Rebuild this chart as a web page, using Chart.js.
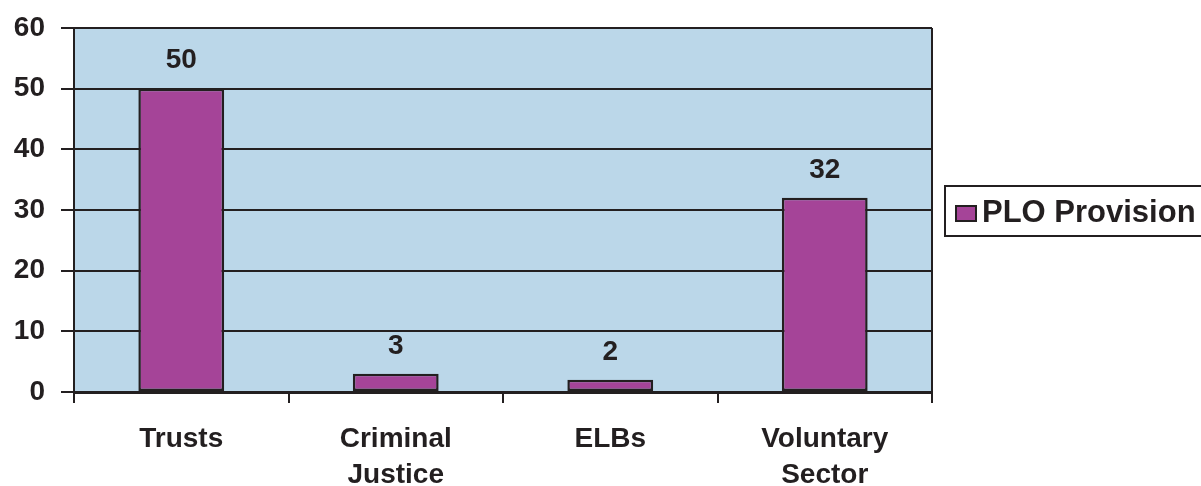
<!DOCTYPE html>
<html>
<head>
<meta charset="utf-8">
<script src="https://cdn.jsdelivr.net/npm/chart.js@4.4.0/dist/chart.umd.min.js"></script>
<style>
  html, body { margin: 0; padding: 0; background: #fff; }
  #wrap { width: 1201px; height: 486px; position: relative; }
</style>
</head>
<body>
<div id="wrap"><canvas id="chart"></canvas></div>
<script>
// ─── DATA ─────────────────────────────────────────
const categories = ['Trusts', ['Criminal', 'Justice'], 'ELBs', ['Voluntary', 'Sector']];
const provision  = [50, 3, 2, 32];
const seriesName = 'PLO Provision';
const yTicks     = [0, 10, 20, 30, 40, 50, 60];

const INK   = '#231F20';
const BAR   = '#A54498';
const PANEL = '#BBD7E9';
const FONT  = "'Liberation Sans', Arial, Helvetica, sans-serif";

// panel background + right border
const panelPlugin = {
  id: 'panel',
  beforeDraw(chart) {
    const { ctx, chartArea: a } = chart;
    ctx.save();
    ctx.fillStyle = PANEL;
    ctx.fillRect(a.left, a.top, a.right - a.left, a.bottom - a.top);
    ctx.restore();
  },
  afterDraw(chart) {
    const { ctx, chartArea: a } = chart;
    ctx.save();
    ctx.strokeStyle = INK;
    ctx.lineWidth = 2;
    ctx.beginPath();
    ctx.moveTo(a.right, a.top);
    ctx.lineTo(a.right, a.bottom);
    ctx.stroke();
    ctx.restore();
  }
};

// value labels above each bar
const valuePlugin = {
  id: 'values',
  afterDatasetsDraw(chart) {
    const { ctx } = chart;
    const meta = chart.getDatasetMeta(0);
    ctx.save();
    ctx.fillStyle = INK;
    ctx.font = 'bold 28px ' + FONT;
    ctx.textAlign = 'center';
    ctx.textBaseline = 'middle';
    meta.data.forEach((bar, i) => {
      ctx.fillText(String(chart.data.datasets[0].data[i]), bar.x, bar.y - 28);
    });
    ctx.restore();
  }
};

// boxed legend on the right, partly off the canvas like the source
const legendPlugin = {
  id: 'boxLegend',
  afterDraw(chart) {
    const { ctx } = chart;
    const ds = chart.data.datasets[0];
    const x = 945, y = 186, h = 50;
    ctx.save();
    ctx.strokeStyle = INK;
    ctx.lineWidth = 2;
    ctx.strokeRect(x, y, 300, h);
    ctx.fillStyle = ds.backgroundColor;
    ctx.fillRect(x + 11, y + 20, 20, 15);
    ctx.strokeRect(x + 11, y + 20, 20, 15);
    ctx.fillStyle = INK;
    ctx.font = 'bold 31px ' + FONT;
    ctx.textAlign = 'left';
    ctx.textBaseline = 'middle';
    ctx.fillText(ds.label, x + 37, y + h / 2 + 2);
    ctx.restore();
  }
};

new Chart(document.getElementById('chart'), {
  type: 'bar',
  data: {
    labels: categories,
    datasets: [{
      label: seriesName,
      data: provision,
      backgroundColor: BAR,
      borderColor: INK,
      borderWidth: 2.5,
      borderSkipped: false,
      barPercentage: 0.40,
      categoryPercentage: 1
    }]
  },
  options: {
    responsive: true,
    maintainAspectRatio: false,
    animation: false,
    layout: { padding: { top: 28, right: 269, left: 0, bottom: 0 } },
    plugins: {
      legend: { display: false },
      tooltip: { enabled: false }
    },
    scales: {
      x: {
        offset: true,
        grid: {
          offset: true,
          drawOnChartArea: false,
          color: INK,
          lineWidth: 2,
          tickLength: 11
        },
        border: { display: true, color: INK, width: 3 },
        ticks: {
          color: INK,
          padding: 18,
          maxRotation: 0,
          font: { family: FONT, size: 28, weight: 'bold', lineHeight: 1.3 }
        },
        afterFit: s => { s.height = 94; }
      },
      y: {
        min: yTicks[0],
        max: yTicks[yTicks.length - 1],
        afterBuildTicks: s => { s.ticks = yTicks.map(v => ({ value: v })); },
        grid: { color: INK, lineWidth: 2, tickLength: 13 },
        border: { display: true, color: INK, width: 2 },
        ticks: {
          color: INK,
          padding: 16,
          font: { family: FONT, size: 28, weight: 'bold' }
        },
        afterFit: s => { s.width = 74; s.paddingTop = 0; s.paddingBottom = 0; }
      }
    }
  },
  plugins: [panelPlugin, valuePlugin, legendPlugin]
});
</script>
</body>
</html>
